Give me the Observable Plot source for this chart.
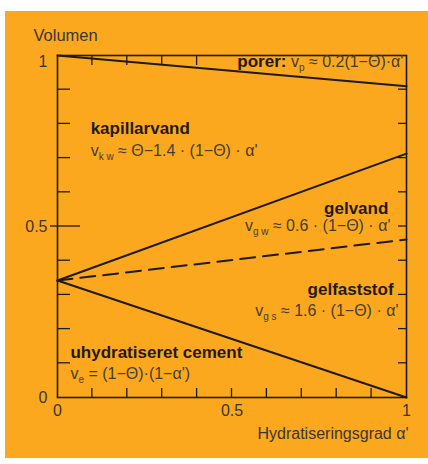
<!DOCTYPE html>
<html>
<head>
<meta charset="utf-8">
<script src="https://cdn.jsdelivr.net/npm/d3@7"></script>
<script src="https://cdn.jsdelivr.net/npm/@observablehq/plot@0.6"></script>
<style>
  html, body { margin: 0; padding: 0; background: #ffffff; }
  #chart { position: absolute; left: 5px; top: 11px; width: 423px; height: 447px; background: #fba81f; }
  #chart svg { display: block; background: transparent; }
</style>
</head>
<body>
<div id="chart"></div>
<script>
// Hydration degree α' (x) and the volume boundaries between phases at α' = 0 and α' = 1
const alpha = [0, 1];
const porerBoundary = [1, 0.91];        // top of capillary water / bottom of pores
const kapillarBoundary = [0.342, 0.713]; // bottom of capillary water / top of gel water
const gelvandBoundary = [0.342, 0.462];  // bottom of gel water / top of gel solids (dashed)
const cementBoundary = [0.342, 0];       // top of unhydrated cement

// Axis tick labels and minor tick positions
const xTickLabels = [0, 0.5, 1];
const yTickLabels = [0, 0.5];
const yTopLabel = [1];
const minorTicks = [0.1, 0.2, 0.3, 0.4, 0.5, 0.6, 0.7, 0.8, 0.9];
const topTicks = [0.1, 0.2, 0.3, 0.4];

// Phase names and their volume formulas ({..} = subscript, *..* = bold)
const phaseNames = ["kapillarvand", "gelvand", "gelfaststof", "uhydratiseret cement"];
const phaseFormulas = [
  "v{k w} ≈ Θ−1.4 · (1−Θ) · α'",
  "v{g w} ≈ 0.6 · (1−Θ) · α'",
  "v{g s} ≈ 1.6 · (1−Θ) · α'",
  "v{e} = (1−Θ)·(1−α')"
];
const porerLabel = "*porer:* v{p} ≈ 0.2(1−Θ)·α'";

const ink = "#1f1a14";
const formulaInk = "#463e2c";
const axisInk = "#3a3630";
const font = "'Liberation Sans', Arial, Helvetica, sans-serif";

const boundaries = [
  {name: "porer", values: porerBoundary},
  {name: "kapillar", values: kapillarBoundary},
  {name: "cement", values: cementBoundary}
].flatMap(b => alpha.map((a, i) => ({boundary: b.name, a, v: b.values[i]})));
const dashed = alpha.map((a, i) => ({a, v: gelvandBoundary[i]}));

const leftLabels = [
  {a: 0.095, v: 0.787, t: phaseNames[0]},
  {a: 0.095, v: 0.722, t: phaseFormulas[0]},
  {a: 0.037, v: 0.132, t: phaseNames[3]},
  {a: 0.037, v: 0.070, t: phaseFormulas[3]}
];
const rightLabels = [
  {a: 0.991, v: 0.980, t: porerLabel},
  {a: 0.948, v: 0.553, t: phaseNames[1]},
  {a: 0.954, v: 0.503, t: phaseFormulas[1]},
  {a: 0.963, v: 0.316, t: phaseNames[2]},
  {a: 0.977, v: 0.254, t: phaseFormulas[2]}
];

const labelMark = (data, anchor) => Plot.text(data, {
  x: "a", y: "v", text: "t",
  textAnchor: anchor, lineAnchor: "middle",
  fontSize: 16, fill: formulaInk
});

const axisText = {tickSize: 0, tickFormat: d => String(d), fontSize: 16, fill: axisInk, label: null};

const chart = Plot.plot({
  width: 423,
  height: 447,
  marginLeft: 52,
  marginRight: 22,
  marginTop: 44,
  marginBottom: 61,
  style: {fontFamily: font, fontSize: "16px", background: "transparent", overflow: "visible", color: axisInk},
  x: {domain: [0, 1]},
  y: {domain: [0, 1]},
  marks: [
    Plot.frame({stroke: ink, strokeWidth: 1.6}),
    // tick labels
    Plot.axisX(xTickLabels, {anchor: "bottom", tickPadding: 7, ...axisText}),
    Plot.axisY(yTickLabels, {anchor: "left", tickPadding: 10, ...axisText}),
    Plot.axisY(yTopLabel, {anchor: "left", tickPadding: 10, dy: 6, ...axisText}),
    // phase boundaries
    Plot.line(boundaries, {x: "a", y: "v", z: "boundary", stroke: ink, strokeWidth: 2}),
    Plot.line(dashed, {x: "a", y: "v", stroke: ink, strokeWidth: 2, strokeDasharray: "15,8"}),
    // phase labels
    labelMark(leftLabels, "start"),
    labelMark(rightLabels, "end"),
    // axis titles
    Plot.text(["Volumen"], {frameAnchor: "top-left", dx: -24, dy: -15, textAnchor: "start", lineAnchor: "bottom", fontSize: 16.5, fill: axisInk}),
    Plot.text(["Hydratiseringsgrad α'"], {frameAnchor: "bottom-right", dx: 2, dy: 41, textAnchor: "end", fontSize: 16, fill: axisInk})
  ]
});

// Inward minor ticks on all four frame edges, placed through the chart's own scales
const sx = chart.scale("x"), sy = chart.scale("y");
const [x0, x1] = sx.range, [y0, y1] = sy.range; // y0 = bottom, y1 = top
const tickLayer = d3.select(chart).insert("g", "g").attr("stroke", ink).attr("stroke-width", 1.3);
const addTicks = (ticks, pos) => tickLayer.selectAll(null).data(ticks).join("line").each(function (d) {
  const [a1, b1, a2, b2] = pos(d);
  d3.select(this).attr("x1", a1).attr("y1", b1).attr("x2", a2).attr("y2", b2);
});
addTicks(minorTicks, d => [sx.apply(d), y0, sx.apply(d), y0 - 9]);                  // bottom
addTicks(topTicks, d => [sx.apply(d), y1, sx.apply(d), y1 + 10]);                    // top
addTicks(minorTicks, d => [x0 - (d === 0.5 ? 7 : 0), sy.apply(d), x0 + (d === 0.5 ? 23 : 13), sy.apply(d)]); // left
addTicks(minorTicks, d => [x1, sy.apply(d), x1 - 8, sy.apply(d)]);                   // right

// Turn the lightweight markup in label strings into tspans (bold names, subscripts)
const svgNS = "http://www.w3.org/2000/svg";
const boldSet = new Set(phaseNames);
const markupTexts = [...leftLabels, ...rightLabels].map(d => d.t);
d3.select(chart).selectAll("text").each(function () {
  const src = this.textContent;
  if (!markupTexts.includes(src)) return;
  if (boldSet.has(src)) {
    this.setAttribute("font-weight", "bold");
    this.setAttribute("font-size", 17);
    this.setAttribute("fill", ink);
    return;
  }
  this.textContent = "";
  let shifted = false;
  for (const part of src.split(/(\*[^*]+\*|\{[^}]+\})/).filter(s => s)) {
    const t = document.createElementNS(svgNS, "tspan");
    if (part.startsWith("*")) {
      t.textContent = part.slice(1, -1);
      t.setAttribute("font-weight", "bold");
      t.setAttribute("font-size", 17);
      t.setAttribute("fill", ink);
    } else if (part.startsWith("{")) {
      t.textContent = part.slice(1, -1);
      t.setAttribute("font-size", 10);
      t.setAttribute("dy", 4);
      shifted = true;
    } else {
      t.textContent = part;
      if (shifted) { t.setAttribute("dy", -4); shifted = false; }
    }
    this.appendChild(t);
  }
});

document.getElementById("chart").appendChild(chart);
</script>
</body>
</html>
